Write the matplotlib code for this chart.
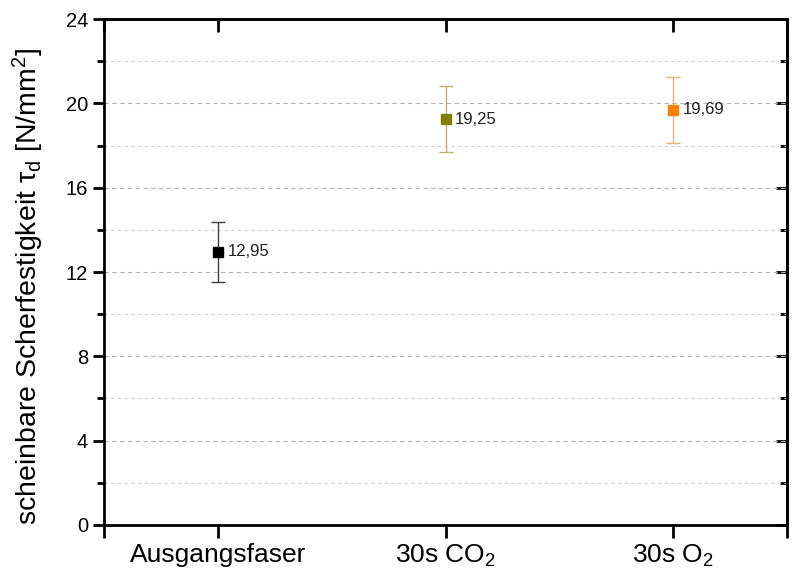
import matplotlib
matplotlib.use("Agg")
import matplotlib.pyplot as plt
from matplotlib.ticker import MultipleLocator

plt.rcParams['font.family'] = ['Liberation Sans', 'DejaVu Sans']
plt.rcParams['mathtext.fontset'] = 'custom'
plt.rcParams['mathtext.rm'] = 'Liberation Sans'
plt.rcParams['mathtext.it'] = 'Liberation Sans:italic'
plt.rcParams['mathtext.default'] = 'regular'

categories = ['Ausgangsfaser', '30s CO$_2$', '30s O$_2$']
values = [12.95, 19.25, 19.69]
errors = [1.41, 1.58, 1.58]
labels = ['12,95', '19,25', '19,69']
marker_colors = ['#000000', '#808000', '#ff8000']
err_colors = ['#404040', '#bdb46a', '#e3b578']

fig = plt.figure(figsize=(7.96, 5.73), dpi=100)
ax = fig.add_axes([0.1307, 0.0838, 0.8580, 0.8830])

xs = [1, 2, 3]
for x, v, e, mc, ec, lab in zip(xs, values, errors, marker_colors, err_colors, labels):
    ax.errorbar(x, v, yerr=e, fmt='none', ecolor=ec, elinewidth=1.0,
                capsize=5, capthick=1.0, zorder=3)
    ax.plot(x, v, marker='s', markersize=7.5, color=mc, linestyle='none', zorder=4)
    ax.annotate(lab, (x, v), xytext=(7, 0), textcoords='offset points',
                va='center', ha='left', fontsize=12, color='#222222')

ax.set_xlim(0.5, 3.5)
ax.set_ylim(0, 24)
ax.yaxis.set_major_locator(MultipleLocator(4))
ax.yaxis.set_minor_locator(MultipleLocator(2))
ax.set_xticks([0.5, 1, 2, 3, 3.5])
ax.set_xticklabels(['', categories[0], categories[1], categories[2], ''], fontsize=19)
ax.tick_params(axis='y', labelsize=14.5)

ax.yaxis.grid(True, which='major', linestyle=(0, (4, 3)), color='#b4b4b4', linewidth=0.8)
ax.yaxis.grid(True, which='minor', linestyle=(0, (3, 3)), color='#d0d0d0', linewidth=0.8)
ax.set_axisbelow(True)

for s in ax.spines.values():
    s.set_linewidth(2.0)

ax.tick_params(axis='y', which='major', direction='out', length=8, width=2)
ax.tick_params(axis='y', which='minor', direction='out', length=5, width=2)
ax.tick_params(axis='x', which='major', direction='out', length=9, width=2, pad=4)

# inward ticks on the right and top via secondary axes
axr = ax.secondary_yaxis('right')
axr.yaxis.set_major_locator(MultipleLocator(4))
axr.yaxis.set_minor_locator(MultipleLocator(2))
axr.tick_params(which='major', direction='in', length=8, width=2, labelright=False)
axr.tick_params(which='minor', direction='in', length=5, width=2)
axr.spines['right'].set_linewidth(2.0)

axt = ax.secondary_xaxis('top')
axt.set_xticks([0.5, 1, 2, 3, 3.5])
axt.tick_params(direction='in', length=9, width=2, labeltop=False)
axt.spines['top'].set_linewidth(2.0)

ax.set_ylabel(r'scheinbare Scherfestigkeit $\tau_\mathrm{d}$ [N/mm$^2$]', fontsize=20.5)
ax.yaxis.set_label_coords(-0.085, 0.472)

fig.savefig('out.png', dpi=100)
